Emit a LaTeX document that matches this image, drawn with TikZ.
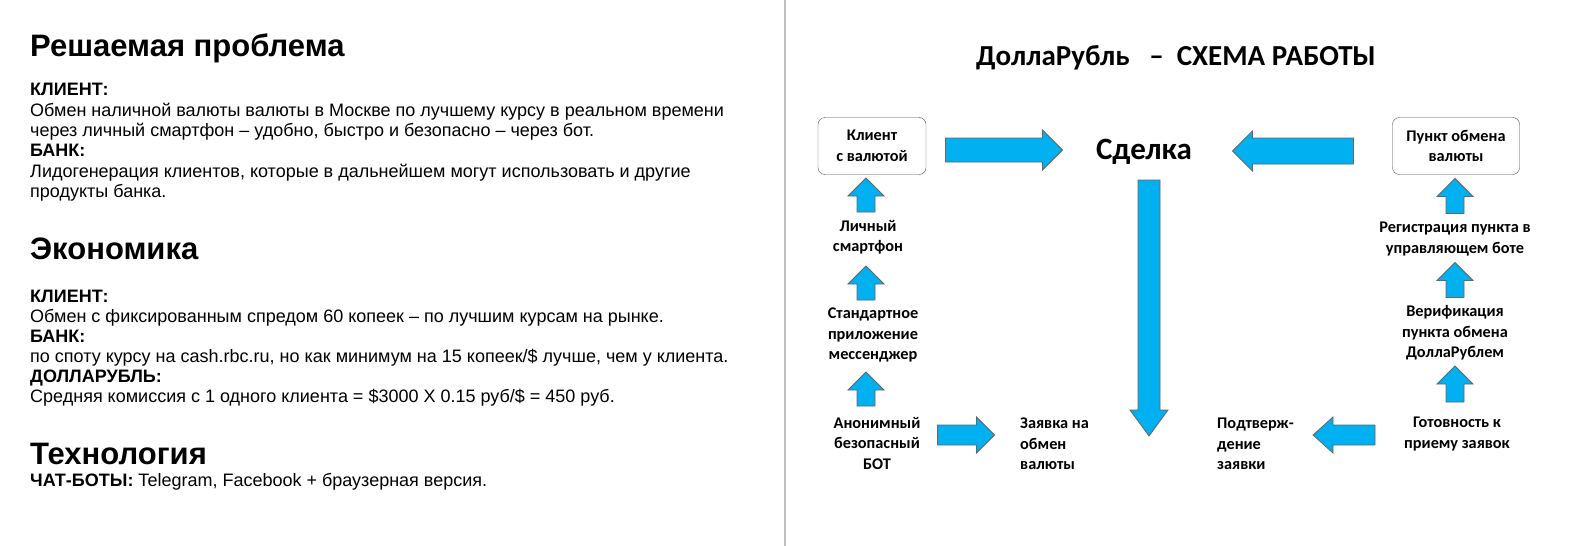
\documentclass[tikz,border=0pt]{standalone}
\usepackage{fontspec}
\setmainfont{Liberation Sans}
\newfontfamily\carl{Carlito}
\definecolor{acyan}{RGB}{0,176,240}
\newcommand\barr[7]{\begin{scope}[shift={(#1,#2)},rotate=#3]
 \filldraw[draw=black!60,fill=acyan,line width=0.8] (-#4/2,-#6/2) -- (#4/2-#7,-#6/2) -- (#4/2-#7,-#5/2) -- (#4/2,0) -- (#4/2-#7,#5/2) -- (#4/2-#7,#6/2) -- (-#4/2,#6/2) -- cycle;
\end{scope}}
\begin{document}
\begin{tikzpicture}[x=1pt,y=-1pt,
 hd/.style={anchor=base west,font=\fontsize{31}{36}\selectfont\bfseries,inner sep=0},
 bd/.style={anchor=base west,font=\fontsize{18}{21}\selectfont,inner sep=0},
 bb/.style={anchor=base west,font=\fontsize{18}{21}\selectfont\bfseries,inner sep=0},
 lab/.style={align=center,font=\carl\fontsize{16.3}{20.5}\selectfont\bfseries,inner sep=0},
 labl/.style={align=left,anchor=west,font=\carl\fontsize{16.3}{20.5}\selectfont\bfseries,inner sep=0},
 box/.style={draw=black!70,rounded corners=7pt,minimum width=#1,minimum height=57,font=\carl\fontsize{16.3}{20.5}\selectfont\bfseries,align=center},
]
\useasboundingbox (0,0) rectangle (1582,546);
\draw[black!25,line width=1.5] (785,0) -- (785,546);
% left text
\node[hd] (h1) at (30,56) {Решаемая проблема};
\node[bb] (k1) at (30,95) {КЛИЕНТ:};
\node[bd] (t1) at (30,116) {Обмен наличной валюты валюты в Москве по лучшему курсу в реальном времени};
\node[bd] (t2) at (30,136) {через личный смартфон – удобно, быстро и безопасно – через бот.};
\node[bb] (b1) at (30,156) {БАНК:};
\node[bd] (t3) at (30,177) {Лидогенерация клиентов, которые в дальнейшем могут использовать и другие};
\node[bd] (t4) at (30,197) {продукты банка.};
\node[hd] (h2) at (30,259) {Экономика};
\node[bb] (k2) at (30,302) {КЛИЕНТ:};
\node[bd] (t5) at (30,322) {Обмен с фиксированным спредом 60 копеек – по лучшим курсам на рынке.};
\node[bb] (b2) at (30,342) {БАНК:};
\node[bd] (t6) at (30,362) {по споту курсу на cash.rbc.ru, но как минимум на 15 копеек/\$ лучше, чем у клиента.};
\node[bb] (d2) at (30,382) {ДОЛЛАРУБЛЬ:};
\node[bd] (t7) at (30,402) {Средняя комиссия с 1 одного клиента = \$3000 X 0.15 руб/\$ = 450 руб.};
\node[hd] (h3) at (30,464) {Технология};
\node[bd] (t8) at (30,486) {\textbf{ЧАТ-БОТЫ:} Telegram, Facebook + браузерная версия.};
% diagram
\node[font=\carl\fontsize{29}{34}\selectfont\bfseries] (title) at (1176,58) {ДоллаРубль \ \ – \ СХЕМА РАБОТЫ};
\node[box=108] (client) at (872,146) {Клиент\\с валютой};
\node[box=127] (punkt) at (1456,146) {Пункт обмена\\валюты};
\node[font=\carl\fontsize{31}{36}\selectfont\bfseries] (deal) at (1144,152) {Сделка};
\barr{1004}{150}{0}{117}{40}{24}{20}
\barr{1293}{151}{180}{121}{40}{26}{20}
\barr{866}{195}{90}{34}{36}{18}{18}
\node[lab] (l1) at (868,237) {Личный\\смартфон};
\barr{866}{283}{90}{34}{36}{18}{18}
\node[lab] (l2) at (873,335) {Стандартное\\приложение\\мессенджер};
\barr{866}{389}{90}{34}{36}{18}{18}
\node[lab] (l3) at (877,443) {Анонимный\\безопасный\\БОТ};
\barr{966}{435}{0}{57}{36}{20}{18}
\node[labl] (z) at (1020,444) {Заявка на\\обмен\\валюты};
\barr{1149}{308}{270}{256}{38}{22}{26}
\node[labl] (p) at (1217,444) {Подтверж-\\дение\\заявки};
\barr{1344}{435}{180}{62}{36}{20}{20}
\node[lab] (g) at (1457,434) {Готовность к\\приему заявок};
\barr{1455}{196}{90}{35}{36}{18}{18}
\node[lab] (rr) at (1455,239) {Регистрация пункта в\\управляющем боте};
\barr{1455}{280}{90}{35}{36}{18}{18}
\node[lab] (v) at (1455,333) {Верификация\\пункта обмена\\ДоллаРублем};
\barr{1455}{384}{90}{36}{36}{18}{18}
\end{tikzpicture}
\end{document}
